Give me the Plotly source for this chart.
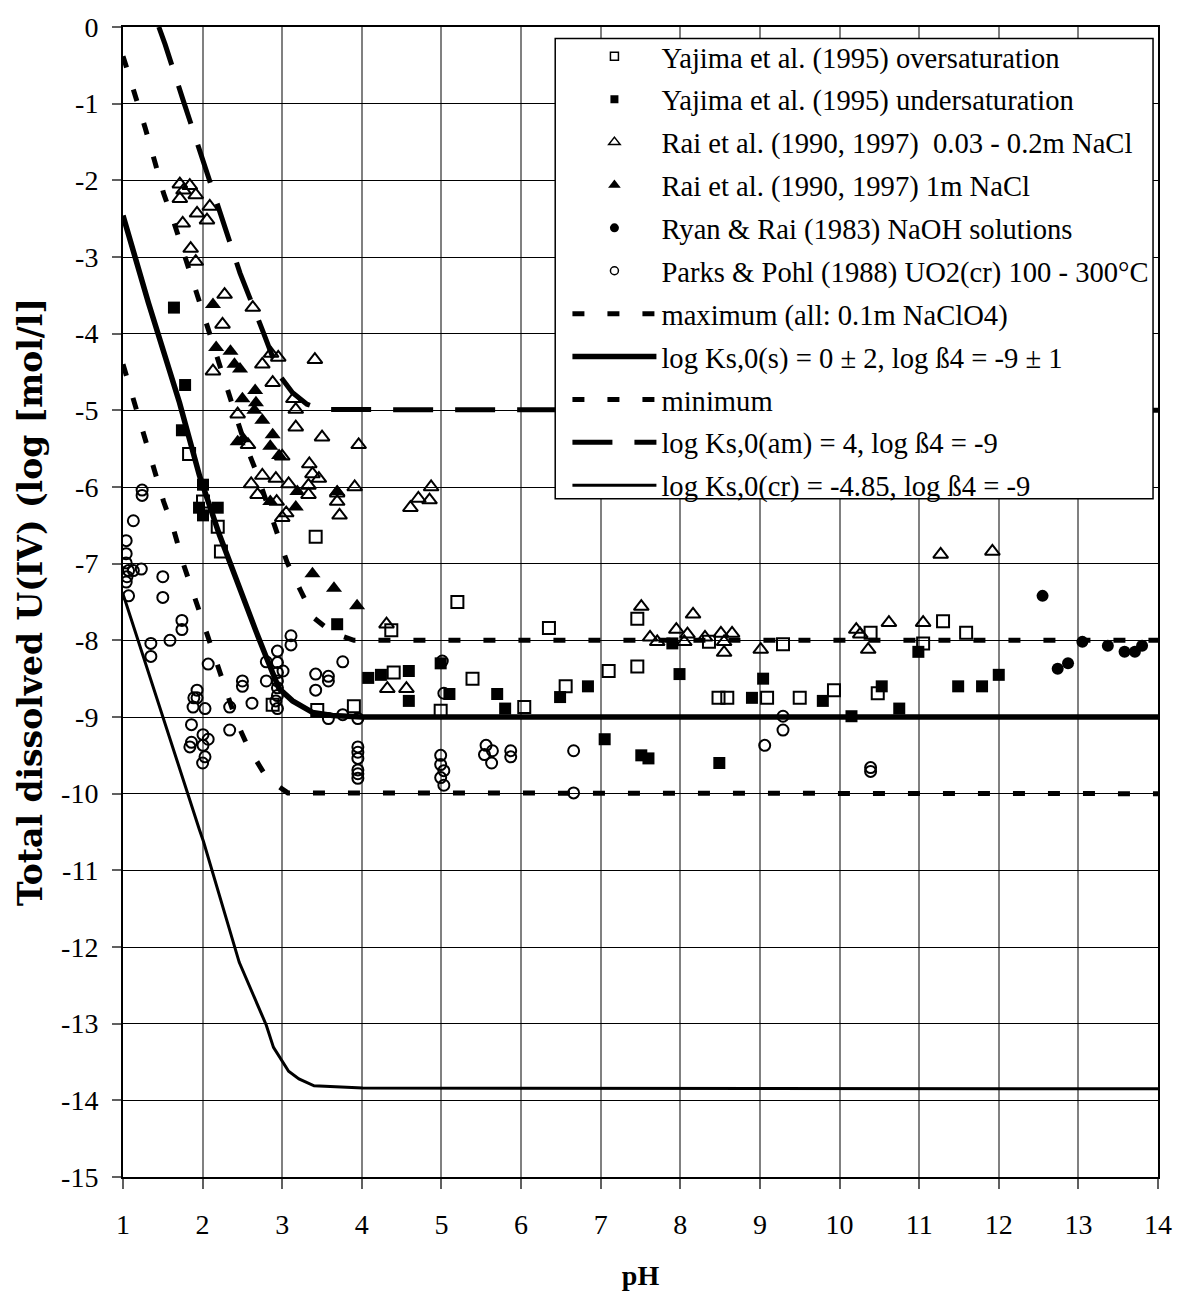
import plotly.graph_objects as go

# ---- solubility curves (pH, log total dissolved U(IV)) ----
curve_max_ph = [1.0, 1.16, 1.28, 1.40, 1.51, 1.64, 1.76, 1.90, 2.03, 2.28, 2.51, 2.67, 2.95, 3.06, 3.23, 3.40, 3.63, 3.90, 14.0]
curve_max_log = [-0.38, -0.90, -1.32, -1.76, -2.17, -2.55, -2.96, -3.39, -3.81, -4.61, -5.37, -5.79, -6.62, -6.98, -7.35, -7.71, -7.90, -8.0, -8.0]

curve_s_ph = [1.0, 1.32, 1.71, 1.96, 2.21, 2.46, 2.67, 2.80, 2.96, 3.13, 3.38, 3.63, 4.0, 14.0]
curve_s_log = [-2.46, -3.60, -4.90, -5.85, -6.62, -7.32, -7.88, -8.22, -8.63, -8.79, -8.94, -8.98, -9.0, -9.0]

curve_min_ph = [1.0, 1.16, 1.28, 1.40, 1.51, 1.64, 1.76, 1.90, 2.03, 2.16, 2.29, 2.43, 2.57, 2.81, 3.07, 14.0]
curve_min_log = [-4.40, -4.94, -5.38, -5.80, -6.19, -6.57, -7.01, -7.44, -7.83, -8.21, -8.62, -9.07, -9.39, -9.80, -9.99, -10.0]

curve_am_ph = [1.45, 1.53, 1.76, 2.0, 2.24, 2.47, 2.75, 2.97, 3.13, 3.31, 3.50, 14.0]
curve_am_log = [0.0, -0.23, -0.97, -1.73, -2.46, -3.21, -3.95, -4.55, -4.77, -4.92, -4.99, -5.0]

curve_cr_ph = [1.0, 1.03, 1.96, 2.01, 2.46, 2.80, 2.89, 3.0, 3.08, 3.21, 3.40, 4.01, 14.0]
curve_cr_log = [-7.40, -7.49, -10.47, -10.62, -12.20, -13.02, -13.31, -13.49, -13.62, -13.72, -13.81, -13.84, -13.85]

# ---- experimental data ----
yaj_over_ph = [1.83, 2.005, 2.19, 2.23, 3.42, 2.88, 3.44, 3.90, 4.40, 4.37, 5.20, 6.35, 7.46, 5.39, 7.10,
               7.46, 6.56, 6.04, 4.99, 8.36, 8.48, 8.59, 9.09, 9.29, 9.50, 9.93, 10.39, 10.48, 11.05, 11.30, 11.59]
yaj_over_log = [-5.57, -6.19, -6.52, -6.84, -6.65, -8.84, -8.91, -8.86, -8.42, -7.87, -7.50, -7.84, -7.72, -8.50, -8.40,
                -8.34, -8.60, -8.87, -8.92, -8.02, -8.75, -8.75, -8.75, -8.05, -8.75, -8.65, -7.90, -8.69, -8.04, -7.75, -7.90]

yaj_under_ph = [1.64, 1.78, 1.74, 2.005, 1.955, 2.19, 2.005, 3.69, 4.08, 4.24, 4.59, 4.59, 4.99, 5.10, 5.70, 5.80,
                6.49, 6.84, 7.05, 7.51, 7.60, 7.90, 7.99, 8.49, 8.90, 9.04, 9.79, 10.15, 10.53, 10.75, 10.99,
                11.49, 11.79, 12.0]
yaj_under_log = [-3.66, -4.67, -5.26, -5.97, -6.27, -6.27, -6.37, -7.79, -8.49, -8.45, -8.40, -8.79, -8.30, -8.70, -8.70, -8.89,
                 -8.74, -8.60, -9.29, -9.50, -9.54, -8.04, -8.44, -9.60, -8.75, -8.50, -8.79, -8.99, -8.60, -8.89, -8.15,
                 -8.60, -8.60, -8.45]

rai_low_ph = [1.714, 1.839, 1.76, 1.714, 1.914, 2.09, 1.93, 2.055, 1.75, 1.85, 1.914, 2.276, 2.63, 2.25, 2.13,
              2.86, 2.95, 2.75, 3.41, 2.88, 3.14, 3.17, 2.44, 3.17, 3.50, 2.57, 3.96, 3.0, 3.34, 3.38, 3.46,
              2.75, 2.92, 3.08, 2.61, 3.33, 3.33, 2.69, 2.93, 3.69, 3.69, 3.72, 3.91, 3.0, 3.05,
              4.71, 4.87, 4.85, 4.61, 4.31, 4.32, 4.56,
              7.51, 7.62, 7.71, 7.95, 8.09, 8.05, 8.16, 8.31, 8.51, 8.65, 8.55, 8.55, 9.01,
              10.21, 10.26, 10.36, 10.62, 11.05, 11.27, 11.92]
rai_low_log = [-2.05, -2.07, -2.13, -2.24, -2.19, -2.34, -2.43, -2.52, -2.56, -2.89, -3.06, -3.49, -3.66, -3.88, -4.49,
               -4.26, -4.31, -4.40, -4.34, -4.64, -4.85, -4.99, -5.05, -5.22, -5.35, -5.45, -5.45, -5.60, -5.70, -5.83, -5.89,
               -5.85, -5.89, -5.96, -5.96, -5.98, -6.10, -6.10, -6.19, -6.08, -6.19, -6.37, -6.00, -6.40, -6.34,
               -6.15, -6.00, -6.17, -6.27, -7.79, -8.63, -8.63,
               -7.56, -7.96, -8.02, -7.86, -7.92, -8.02, -7.66, -7.96, -7.91, -7.91, -8.02, -8.16, -8.12,
               -7.86, -7.92, -8.12, -7.77, -7.77, -6.88, -6.84]

rai_1m_ph = [2.13, 2.17, 2.35, 2.40, 2.47, 2.50, 2.66, 2.67, 2.65, 2.75, 2.44, 2.51, 2.88, 2.85, 2.96,
             3.19, 2.85, 3.17, 3.69, 3.38, 3.65, 3.94]
rai_1m_log = [-3.62, -4.18, -4.23, -4.40, -4.46, -4.85, -4.74, -4.90, -5.00, -5.13, -5.41, -5.37, -5.32, -5.47, -5.59,
              -6.06, -6.19, -6.26, -6.06, -7.13, -7.32, -7.55]

ryan_ph = [12.55, 12.74, 12.87, 13.05, 13.37, 13.58, 13.71, 13.80]
ryan_log = [-7.42, -8.37, -8.30, -8.02, -8.07, -8.15, -8.15, -8.07]

parks_ph = [1.24, 1.24, 1.13, 1.04, 1.04, 1.04, 1.07, 1.13, 1.23, 1.05, 1.04, 1.07, 1.50, 1.50, 1.74, 1.74,
            1.35, 1.59, 1.35, 2.07, 1.93, 1.89, 1.93, 1.88, 2.03, 1.86, 2.005, 1.86, 1.84, 2.005, 2.07, 2.03, 2.0,
            2.34, 2.34, 2.50, 2.50, 2.62, 2.80, 2.80, 2.94, 2.94, 2.94, 2.94, 2.94, 2.94, 2.92, 2.94, 3.01,
            3.11, 3.11, 3.42, 3.42, 3.58, 3.58, 3.76, 3.58, 3.76, 3.95, 3.95, 3.95, 3.95, 3.95, 3.95, 3.95,
            5.01, 5.03, 4.99, 4.99, 5.03, 4.99, 5.03, 5.56, 5.54, 5.64, 5.63, 5.87, 5.87, 6.66, 6.66,
            9.06, 9.29, 9.29, 10.39, 10.39]
parks_log = [-6.04, -6.11, -6.44, -6.70, -6.87, -6.99, -7.09, -7.09, -7.07, -7.17, -7.24, -7.42, -7.17, -7.44, -7.74, -7.86,
             -8.04, -8.00, -8.21, -8.31, -8.65, -8.75, -8.75, -8.87, -8.89, -9.10, -9.23, -9.33, -9.39, -9.37, -9.29, -9.52, -9.60,
             -8.87, -9.17, -8.53, -8.60, -8.82, -8.28, -8.53, -8.14, -8.29, -8.42, -8.53, -8.62, -8.72, -8.79, -8.89, -8.40,
             -7.94, -8.06, -8.44, -8.65, -8.47, -8.53, -8.28, -9.02, -8.97, -9.02, -9.39, -9.46, -9.54, -9.69, -9.74, -9.80,
             -8.27, -8.69, -9.50, -9.62, -9.70, -9.79, -9.89, -9.37, -9.49, -9.44, -9.60, -9.44, -9.52, -9.44, -9.99,
             -9.37, -8.99, -9.17, -9.66, -9.71]

x_ticks = list(range(1, 15))
y_ticks = list(range(-15, 1))

FONT = "Liberation Serif"

fig = go.Figure()


def add_curve(x, y, name, rank, line):
    fig.add_trace(go.Scatter(x=x, y=y, mode="lines", name=name, legendrank=rank,
                             legendgroup=name, line=line))


def add_points(x, y, name, rank, marker, key_marker):
    # data symbols, plus a data-less twin that carries the smaller key symbol
    fig.add_trace(go.Scatter(x=x, y=y, mode="markers", name=name, showlegend=False,
                             legendgroup=name, marker=marker))
    fig.add_trace(go.Scatter(x=[None], y=[None], mode="markers", name=name, legendrank=rank,
                             legendgroup=name, marker=key_marker))


# Model curves go in first so the data symbols sit on top of them
add_curve(curve_max_ph, curve_max_log, "maximum (all: 0.1m NaClO4)", 7,
          dict(color="black", width=5, dash="12px,23px"))
add_curve(curve_s_ph, curve_s_log, "log Ks,0(s) = 0 ± 2, log ß4 = -9 ± 1", 8,
          dict(color="black", width=5.5))
add_curve(curve_min_ph, curve_min_log, "minimum", 9,
          dict(color="black", width=5, dash="12px,23px"))
add_curve(curve_am_ph, curve_am_log, "log Ks,0(am) = 4, log ß4 = -9", 10,
          dict(color="black", width=5, dash="40px,22px"))
add_curve(curve_cr_ph, curve_cr_log, "log Ks,0(cr) = -4.85, log ß4 = -9", 11,
          dict(color="black", width=3))

open_line = dict(color="black", width=2)
key_line = dict(color="black", width=1.5)
add_points(yaj_over_ph, yaj_over_log, "Yajima et al. (1995) oversaturation", 1,
           dict(symbol="square-open", size=12, color="black", line=open_line),
           dict(symbol="square-open", size=8, color="black", line=key_line))
add_points(yaj_under_ph, yaj_under_log, "Yajima et al. (1995) undersaturation", 2,
           dict(symbol="square", size=12, color="black"),
           dict(symbol="square", size=8, color="black"))
add_points(rai_low_ph, rai_low_log, "Rai et al. (1990, 1997)  0.03 - 0.2m NaCl", 3,
           dict(symbol="triangle-up-open", size=13, color="black", line=open_line),
           dict(symbol="triangle-up-open", size=10, color="black", line=key_line))
add_points(rai_1m_ph, rai_1m_log, "Rai et al. (1990, 1997) 1m NaCl", 4,
           dict(symbol="triangle-up", size=14, color="black"),
           dict(symbol="triangle-up", size=11, color="black"))
add_points(ryan_ph, ryan_log, "Ryan & Rai (1983) NaOH solutions", 5,
           dict(symbol="circle", size=12, color="black"),
           dict(symbol="circle", size=9, color="black"))
add_points(parks_ph, parks_log, "Parks & Pohl (1988) UO2(cr) 100 - 300°C", 6,
           dict(symbol="circle-open", size=11, color="black", line=open_line),
           dict(symbol="circle-open", size=8, color="black", line=key_line))

# White legend panel hiding the curves and grid behind the key
fig.add_shape(type="rect", xref="paper", yref="paper", layer="above",
              x0=0.4176, x1=0.9952, y0=0.5898, y1=0.990,
              fillcolor="white", line=dict(color="black", width=1.5))

fig.update_layout(
    width=1184, height=1298,
    margin=dict(l=123, r=19, t=22, b=118),
    plot_bgcolor="white", paper_bgcolor="white",
    font=dict(family=FONT, size=28, color="black"),
    showlegend=True,
    legend=dict(x=0.4294, y=0.9963, xanchor="left", yanchor="top",
                bgcolor="rgba(0,0,0,0)", borderwidth=0,
                font=dict(family=FONT, size=28.6, color="black"),
                itemwidth=84, traceorder="grouped", tracegroupgap=2.7),
)
fig.update_xaxes(range=[1, 14], tickvals=x_ticks, ticktext=[str(v) for v in x_ticks],
                 showgrid=True, gridcolor="#808080", gridwidth=1.5, zeroline=False,
                 showline=True, linecolor="black", linewidth=2, mirror=True,
                 ticks="outside", ticklen=10, tickcolor="#606060", tickwidth=1.5,
                 ticklabelstandoff=11,
                 tickfont=dict(family=FONT, size=28),
                 title=dict(text="<b>pH</b>", font=dict(family=FONT, size=28), standoff=27))
fig.update_yaxes(range=[-15, 0], tickvals=y_ticks, ticktext=[str(v) for v in y_ticks],
                 showgrid=True, gridcolor="black", gridwidth=1, zeroline=False,
                 showline=True, linecolor="black", linewidth=2, mirror=True,
                 ticks="outside", ticklen=9, tickcolor="#606060", tickwidth=1.5,
                 ticklabelstandoff=8,
                 tickfont=dict(family=FONT, size=28),
                 title=dict(text="<b>Total dissolved U(IV) (log [mol/l]</b>",
                            font=dict(family="DejaVu Serif", size=33), standoff=9))

fig.write_html("out.html")
